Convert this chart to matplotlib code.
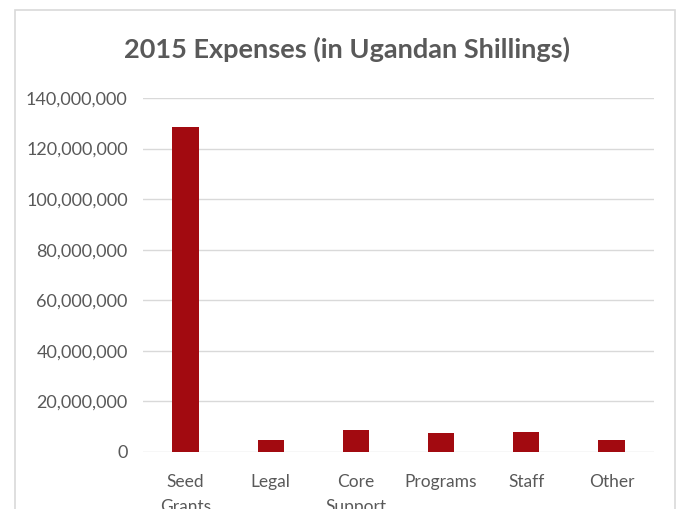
import matplotlib
matplotlib.use("Agg")
import matplotlib.pyplot as plt
from matplotlib.patches import Rectangle
from matplotlib.ticker import FuncFormatter

# datos
categorias = ["Seed\nGrants", "Legal", "Core\nSupport", "Programs", "Staff", "Other"]
gastos = [128500000, 4700000, 8600000, 7500000, 7800000, 4700000]
marcas_y = [0, 20000000, 40000000, 60000000, 80000000, 100000000, 120000000, 140000000]

plt.rcParams['font.family'] = ['Lato', 'DejaVu Sans']

fig = plt.figure(figsize=(6.78, 5.09), dpi=100)
W, H = 678, 509

# marco del grafico
fig.patches.append(Rectangle((15 / W, -20 / H), 660 / W, (H + 20 - 10) / H,
                             transform=fig.transFigure, fill=False,
                             edgecolor='#d9d9d9', linewidth=1.2))

ax = fig.add_axes([143 / W, 1 - 452 / H, 511 / W, 354 / H])
x = range(len(categorias))
ax.bar(x, gastos, width=0.31, color='#a20a10', zorder=3)

ax.set_xlim(-0.5, len(categorias) - 0.5)
ax.set_ylim(0, 140000000)
ax.set_yticks(marcas_y)
ax.yaxis.set_major_formatter(FuncFormatter(lambda v, p: f"{int(v):,}"))
ax.set_xticks(list(x))
ax.set_xticklabels(categorias, va='top', linespacing=1.7)
ax.grid(axis='y', color='#d9d9d9', linewidth=1, zorder=0)
for s in ax.spines.values():
    s.set_visible(False)
ax.tick_params(axis='y', length=0, pad=11, labelsize=13, labelcolor='#595959')
ax.tick_params(axis='x', length=0, pad=15.5, labelsize=12.5, labelcolor='#595959')

fig.text(347 / W, 1 - 49 / H, "2015 Expenses (in Ugandan Shillings)",
         ha='center', va='center', fontsize=19.5, fontweight='bold', color='#595959')

fig.savefig("out.png", dpi=100)
